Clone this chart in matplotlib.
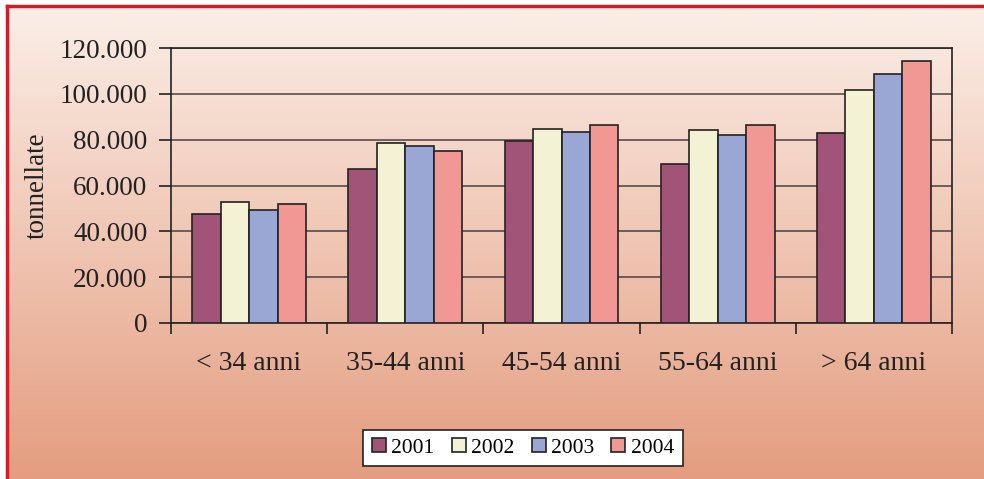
import matplotlib.pyplot as plt
import matplotlib.lines as mlines
import numpy as np

# data (tonnellate)
categories = ['< 34 anni', '35-44 anni', '45-54 anni', '55-64 anni', '> 64 anni']
years = ['2001', '2002', '2003', '2004']
v2001 = [47400, 67300, 79300, 69200, 82800]
v2002 = [52800, 78500, 84800, 84100, 101800]
v2003 = [49300, 77100, 83500, 82200, 108700]
v2004 = [51900, 75000, 86300, 86500, 114300]
yticks = [0, 20000, 40000, 60000, 80000, 100000, 120000]
ytick_labels = ['0', '20.000', '40.000', '60.000', '80.000', '100.000', '120.000']

series = [v2001, v2002, v2003, v2004]
colors = ['#A25478', '#F4F2D4', '#9AA6D3', '#F29894']

plt.rcParams['font.family'] = ['Liberation Serif', 'DejaVu Serif']

fig = plt.figure(figsize=(9.84, 4.79), dpi=100)

# gradient background inside the red frame
bg = fig.add_axes([8 / 984, 0, 1 - 8 / 984, 1 - 8 / 479])
bg.set_zorder(-10)
top_c = np.array([251, 238, 231]) / 255
bot_c = np.array([228, 157, 128]) / 255
t = np.linspace(0, 1, 256)[:, None]
grad = top_c * (1 - t) + bot_c * t
bg.imshow(grad[:, None, :], aspect='auto', extent=[0, 1, 0, 1])
bg.axis('off')

# red frame (top and left)
fig.add_artist(mlines.Line2D([7 / 984, 1], [1 - 6 / 479, 1 - 6 / 479],
                             transform=fig.transFigure, color='#CE1E2A', linewidth=2.5))
fig.add_artist(mlines.Line2D([7 / 984, 7 / 984], [0, 1 - 6 / 479],
                             transform=fig.transFigure, color='#CE1E2A', linewidth=2.5))

ax = fig.add_axes([171 / 984, 1 - 323 / 479, (952 - 171) / 984, (323 - 48) / 479])
ax.patch.set_alpha(0)

x = np.arange(len(categories))
width = 0.182
for i, (vals, col, yr) in enumerate(zip(series, colors, years)):
    ax.bar(x + (i - 1.5) * width, vals, width, color=col, edgecolor='#222222',
           linewidth=1.2, label=yr, zorder=3)

ax.set_xlim(-0.5, len(categories) - 0.5)
ax.set_ylim(0, 120000)
ax.set_yticks(yticks)
ax.set_yticklabels(ytick_labels, fontsize=19.5, color='#222222')
ax.set_xticks(np.arange(len(categories) + 1) - 0.5)
ax.set_xticklabels([])
ax.set_xticks(x, minor=True)
ax.set_xticklabels(categories, minor=True, fontsize=20, color='#222222')
ax.tick_params(axis='x', which='minor', length=0, pad=20)
ax.tick_params(axis='x', which='major', length=8, width=1.2, direction='out', color='#222222')
ax.tick_params(axis='y', length=9, width=1.2, direction='out', color='#222222', pad=8)
ax.grid(True, axis='y', color='#4a4040', linewidth=1.1, zorder=0)
ax.set_axisbelow(True)
for s in ax.spines.values():
    s.set_color('#222222')
    s.set_linewidth(1.2)

ax.set_ylabel('tonnellate', fontsize=19.5, color='#222222', labelpad=7)

leg = fig.legend(loc='center', bbox_to_anchor=(523 / 984, 1 - 448 / 479), ncol=4,
                 fontsize=15.5, frameon=True, fancybox=False, edgecolor='#222222',
                 handlelength=0.65, handleheight=0.65, handletextpad=0.25,
                 columnspacing=0.8, borderpad=0.4)
leg.get_frame().set_linewidth(1.2)
leg.get_frame().set_facecolor('white')
leg.get_frame().set_alpha(1)

plt.savefig('out.png', dpi=100)
plt.close()
